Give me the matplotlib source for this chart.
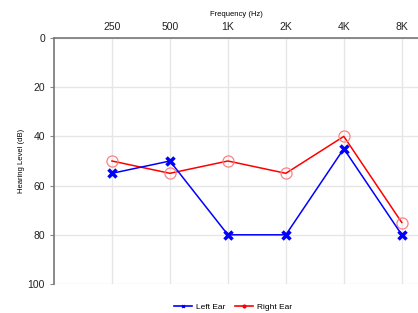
import numpy as np
import matplotlib.pyplot as plt

plt.rcParams['font.family'] = ['Liberation Sans', 'DejaVu Sans']

freqs = ['250', '500', '1K', '2K', '4K', '8K']
left_ear = [55, 50, 80, 80, 45, 80]
right_ear = [50, 55, 50, 55, 40, 75]

x = np.arange(len(freqs))

fig = plt.figure(figsize=(4.18, 3.13), dpi=100)
ax = fig.add_axes([54 / 418, 29 / 313, 1 - 54 / 418, 246 / 313])

ax.plot(x, right_ear, '-', color='red', lw=1.1, label='Right Ear', zorder=3)
ax.plot(x, right_ear, 'o', ms=8, mfc='none', mec='#ff8080', mew=0.9, zorder=3)
ax.plot(x, left_ear, '-', color='blue', lw=1.1, zorder=4)
ax.plot(x, left_ear, 'x', ms=6, color='blue', mew=2.5, zorder=4)

ax.set_xlim(-1, 5.28)
ax.set_ylim(100, 0)
ax.set_yticks([0, 20, 40, 60, 80, 100])
ax.set_xticks(x)
ax.set_xticklabels(freqs)
ax.xaxis.tick_top()
ax.xaxis.set_label_position('top')
ax.tick_params(axis='x', length=0, pad=4, labelsize=7.5, colors='#222222')
ax.tick_params(axis='y', length=3, width=0.8, color='#888888', labelsize=7.5, colors='#222222')
ax.set_xlabel('Frequency (Hz)', fontsize=5.5, labelpad=5)
ax.set_ylabel('Hearing Level (dB)', fontsize=5.5, labelpad=2)

ax.grid(True, color='#e6e6e6', lw=1)
ax.set_axisbelow(True)
for s in ['right', 'bottom']:
    ax.spines[s].set_visible(False)
for s in ['left', 'top']:
    ax.spines[s].set_color('#777777')
    ax.spines[s].set_linewidth(1.2)

h1, = ax.plot([], [], '-', color='blue', marker='x', ms=2, mew=1, lw=1.2, label='Left Ear')
h2, = ax.plot([], [], '-', color='red', marker='o', ms=2, lw=1.2, label='Right Ear')
fig.legend(handles=[h1, h2], loc='center', bbox_to_anchor=(233 / 418, 1 - 307 / 313),
           ncol=2, frameon=False, fontsize=6, handlelength=2.2, columnspacing=1.2,
           handletextpad=0.4)

fig.savefig('out.png', dpi=100)
